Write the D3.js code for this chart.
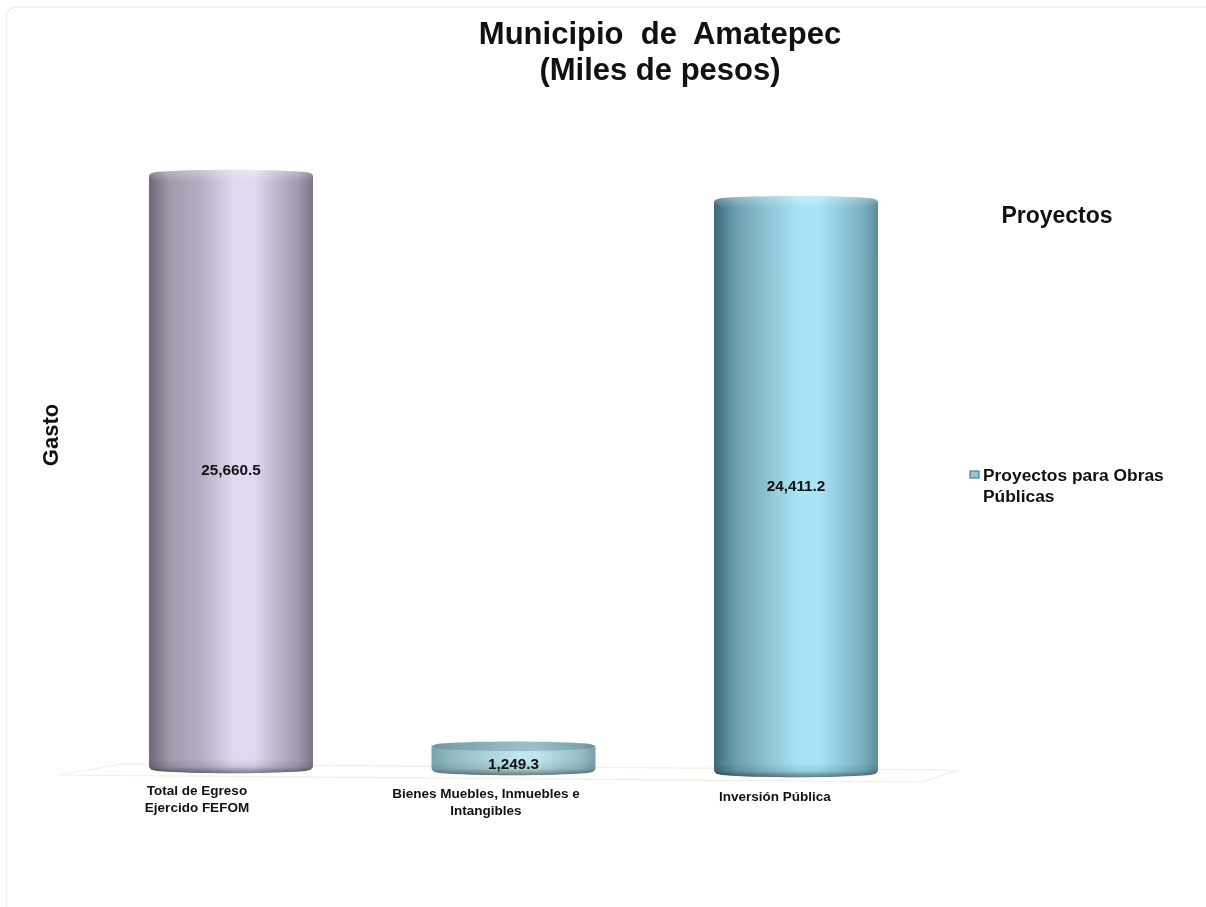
<!DOCTYPE html>
<html>
<head>
<meta charset="utf-8">
<script src="https://cdn.jsdelivr.net/npm/d3@7"></script>
<style>
  html, body { margin: 0; background: #fff; }
  text { font-family: "Liberation Sans", Arial, sans-serif; font-weight: bold; fill: #111; }
</style>
</head>
<body>
<div id="chart"></div>
<script>
const categories = ['Total de Egreso', 'Bienes Muebles', 'Inversión Pública'];
const values = [25660.5, 1249.3, 24411.2];
const categoryLines = [
    ['Total de Egreso', 'Ejercido FEFOM'],
    ['Bienes Muebles, Inmuebles e', 'Intangibles'],
    ['Inversión Pública']
];
const palettes = ['purple', 'pale', 'teal'];
const legendLines = ['Proyectos para Obras', 'Públicas'];
const titleLines = ['Municipio  de  Amatepec', '(Miles de pesos)'];

const gradients = {
    purple: ['#6e6878', '#a09aac', '#b8aec6', '#e2d8f1', '#e2d8f1', '#c4bad2', '#a399b0', '#7b7485'],
    pale: ['#7ba4ad', '#93bbc3', '#a8d0d8', '#bfe6ee', '#bfe6ee', '#abd3da', '#95bdc5', '#789fa8'],
    teal: ['#3f6a79', '#6a9daf', '#8cc3d3', '#a9e4f6', '#a9e4f6', '#93cddd', '#78aebe', '#5c8d9c']
};
const gradientStops = [0, 0.13, 0.32, 0.52, 0.64, 0.76, 0.91, 1];

const svg = d3.select('#chart').append('svg').attr('width', 1206).attr('height', 907);
// the reference is a soft, slightly blurred picture
svg.style('display', 'block').style('filter', 'blur(0.4px)');
const defs = svg.append('defs');

Object.keys(gradients).forEach(name => {
    defs.append('linearGradient').attr('id', 'body-' + name)
        .selectAll('stop')
        .data(gradients[name])
        .join('stop')
        .attr('offset', (d, i) => gradientStops[i])
        .attr('stop-color', d => d);
});

const bevelBottom = defs.append('linearGradient').attr('id', 'bevel-bottom')
    .attr('x1', 0).attr('x2', 0).attr('y1', 0).attr('y2', 1);
bevelBottom.append('stop').attr('offset', 0).attr('stop-color', '#000').attr('stop-opacity', 0);
bevelBottom.append('stop').attr('offset', 0.55).attr('stop-color', '#000').attr('stop-opacity', 0.1);
bevelBottom.append('stop').attr('offset', 1).attr('stop-color', '#000').attr('stop-opacity', 0.45);

const bevelTop = defs.append('linearGradient').attr('id', 'bevel-top')
    .attr('x1', 0).attr('x2', 0).attr('y1', 0).attr('y2', 1);
bevelTop.append('stop').attr('offset', 0).attr('stop-color', '#fff').attr('stop-opacity', 0.3);
bevelTop.append('stop').attr('offset', 1).attr('stop-color', '#fff').attr('stop-opacity', 0);

// card outline, runs off the right side of the picture
svg.append('path')
    .attr('d', 'M6.5,907 V18 Q6.5,7 18,7 H1206')
    .attr('fill', 'none')
    .attr('stroke', '#efefea')
    .attr('stroke-width', 1.6);

// floor of the 3D plot
svg.append('path')
    .attr('d', 'M59,775 L122,764 L958,770 L923,782 Z')
    .attr('fill', '#ffffff')
    .attr('stroke', '#f0efe3')
    .attr('stroke-width', 1.2);

const barWidth = 164;
const capDepth = 4;
const x = d3.scalePoint().domain(categories).range([231, 796]);
const labelX = d3.scalePoint().domain(categories).range([197, 775]);
const h = d3.scaleLinear().domain([0, 25660.5]).range([0, 599]);
// floor tilts down to the right and the bars grow a little towards the viewer
const base = d3.scaleLinear().domain([231, 796]).range([773, 777]);
const perspective = d3.scaleLinear().domain([231, 796]).range([1, 1.012]);

const data = categories.map((c, i) => ({
    name: c, value: values[i], palette: palettes[i], lines: categoryLines[i]
}));

function cylinder(l, r, top, bottom) {
    const p = d3.path();
    p.moveTo(l, top + 6);
    p.quadraticCurveTo(l, top + 3, l + 7, top + 2);
    p.bezierCurveTo(l + 45, top - 1, r - 45, top - 1, r - 7, top + 2);
    p.quadraticCurveTo(r, top + 3, r, top + 6);
    p.lineTo(r, bottom - 7);
    p.quadraticCurveTo(r, bottom - 3, r - 8, bottom - 2);
    p.bezierCurveTo(r - 45, bottom + 1, l + 45, bottom + 1, l + 8, bottom - 2);
    p.quadraticCurveTo(l, bottom - 3, l, bottom - 7);
    p.closePath();
    return p.toString();
}

const bars = svg.selectAll('g.bar').data(data).join('g').attr('class', 'bar');

bars.each(function(d) {
    const g = d3.select(this);
    const cx = x(d.name);
    const l = cx - barWidth / 2, r = cx + barWidth / 2;
    const bottom = base(cx);
    const top = bottom - h(d.value) * perspective(cx) - capDepth;
    const short = bottom - top < 60;
    g.append('path').attr('d', cylinder(l, r, top, bottom)).attr('fill', `url(#body-${d.palette})`);
    // the short disc shows a darker top face, the tall ones only catch the light
    if (short) {
        g.append('path').attr('d', cylinder(l, r, top, top + 9)).attr('fill', '#4f7480').attr('opacity', 0.35);
    } else {
        g.append('path').attr('d', cylinder(l, r, top, top + 12)).attr('fill', 'url(#bevel-top)');
    }
    g.append('path').attr('d', cylinder(l, r, bottom - 14, bottom)).attr('fill', 'url(#bevel-bottom)');
    const labelY = (top + bottom) / 2 + (short ? 5 : -1.5);
    g.append('text')
        .attr('x', cx)
        .attr('y', labelY)
        .attr('dy', '0.35em')
        .attr('text-anchor', 'middle')
        .attr('font-size', 15.3)
        .text(d3.format(',.1f')(d.value));
});

// category labels
svg.selectAll('text.cat').data(data).join('text')
    .attr('class', 'cat')
    .attr('text-anchor', 'middle')
    .attr('font-size', 13.5)
    .each(function(d) {
        const y0 = d.name === 'Bienes Muebles' ? 798 : 795;
        d3.select(this).selectAll('tspan').data(d.lines).join('tspan')
            .attr('x', labelX(d.name))
            .attr('y', (t, i) => (d.lines.length === 1 ? 801 : y0 + i * 17))
            .text(t => t);
    });

// title
svg.append('text')
    .attr('text-anchor', 'middle')
    .attr('font-size', 31)
    .style('white-space', 'pre')
    .selectAll('tspan').data(titleLines).join('tspan')
    .attr('x', 660)
    .attr('y', (t, i) => 44 + i * 36)
    .text(t => t);

// axis title
svg.append('text')
    .attr('transform', 'translate(58,435) rotate(-90)')
    .attr('text-anchor', 'middle')
    .attr('font-size', 22)
    .text('Gasto');

// legend
svg.append('text')
    .attr('x', 1057).attr('y', 223)
    .attr('text-anchor', 'middle')
    .attr('font-size', 23)
    .text('Proyectos');

svg.append('rect')
    .attr('x', 970).attr('y', 471).attr('width', 9).attr('height', 7)
    .attr('fill', '#8fc7d8').attr('stroke', '#4f8090').attr('stroke-width', 1.2);

svg.append('text')
    .attr('font-size', 17.4)
    .selectAll('tspan').data(legendLines).join('tspan')
    .attr('x', 983)
    .attr('y', (t, i) => 481 + i * 21)
    .text(t => t);
</script>
</body>
</html>
